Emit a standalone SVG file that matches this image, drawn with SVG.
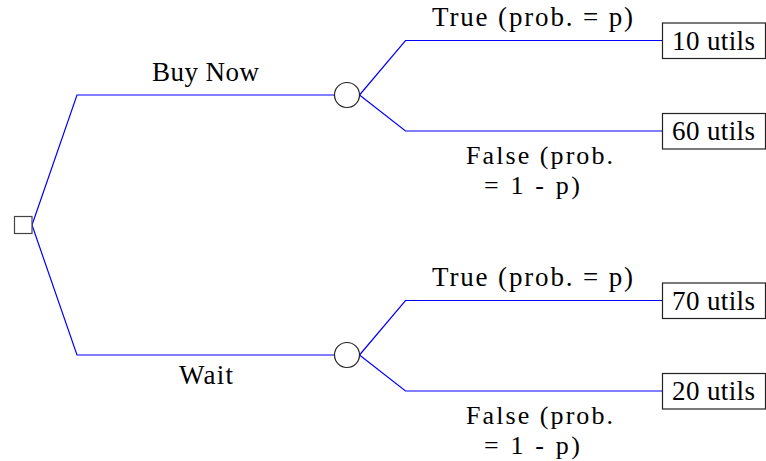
<svg xmlns="http://www.w3.org/2000/svg" width="766" height="461" viewBox="0 0 766 461">
<style>
.edge{fill:none;stroke:#0000ff;stroke-width:1.2}
.node{fill:#fff;stroke:#222;stroke-width:1.2}
text{font-family:"Liberation Serif","Times New Roman",serif;font-size:27px;fill:#000}
.f{font-size:26px}
</style>
<rect width="766" height="461" fill="#fff"/>
<g id="connectors">
<polyline class="edge" points="32,225 77,95 334.5,95"/>
<polyline class="edge" points="32,225 77,355 334.5,355"/>
<polyline class="edge" points="359.5,95 405.5,40.5 662,40.5"/>
<polyline class="edge" points="359.5,95 405.5,131 662,131"/>
<polyline class="edge" points="359.5,355 405.5,300.5 662,300.5"/>
<polyline class="edge" points="359.5,355 405.5,391 662,391"/>
</g>
<g id="labels">
<text x="152" y="81" textLength="107" lengthAdjust="spacing">Buy Now</text>
<text x="179" y="384" textLength="54" lengthAdjust="spacing">Wait</text>
<text x="432" y="26" textLength="201" lengthAdjust="spacing">True (prob.  = p)</text>
<text class="f" x="466" y="164" textLength="147" lengthAdjust="spacing">False (prob.</text>
<text class="f" x="484" y="193.5" textLength="96" lengthAdjust="spacing">= 1 - p)</text>
<text x="432" y="286" textLength="201" lengthAdjust="spacing">True (prob.  = p)</text>
<text class="f" x="466" y="424" textLength="147" lengthAdjust="spacing">False (prob.</text>
<text class="f" x="484" y="453.5" textLength="96" lengthAdjust="spacing">= 1 - p)</text>
</g>
<g id="decision">
<rect class="node" x="14.5" y="216.5" width="17.5" height="17" style="stroke:#444"/>
</g>
<g id="chance1">
<circle class="node" cx="347" cy="95" r="12.5"/>
</g>
<g id="chance2">
<circle class="node" cx="347" cy="355" r="12.5"/>
</g>
<g id="outcome1">
<rect class="node" x="662.5" y="23" width="103" height="35.5"/>
<text x="672" y="50" textLength="83" lengthAdjust="spacing">10 utils</text>
</g>
<g id="outcome2">
<rect class="node" x="662.5" y="113.5" width="103" height="35.5"/>
<text x="672" y="140" textLength="83" lengthAdjust="spacing">60 utils</text>
</g>
<g id="outcome3">
<rect class="node" x="662.5" y="283" width="103" height="35.5"/>
<text x="672" y="310" textLength="83" lengthAdjust="spacing">70 utils</text>
</g>
<g id="outcome4">
<rect class="node" x="662.5" y="373.5" width="103" height="35.5"/>
<text x="672" y="400" textLength="83" lengthAdjust="spacing">20 utils</text>
</g>
</svg>
